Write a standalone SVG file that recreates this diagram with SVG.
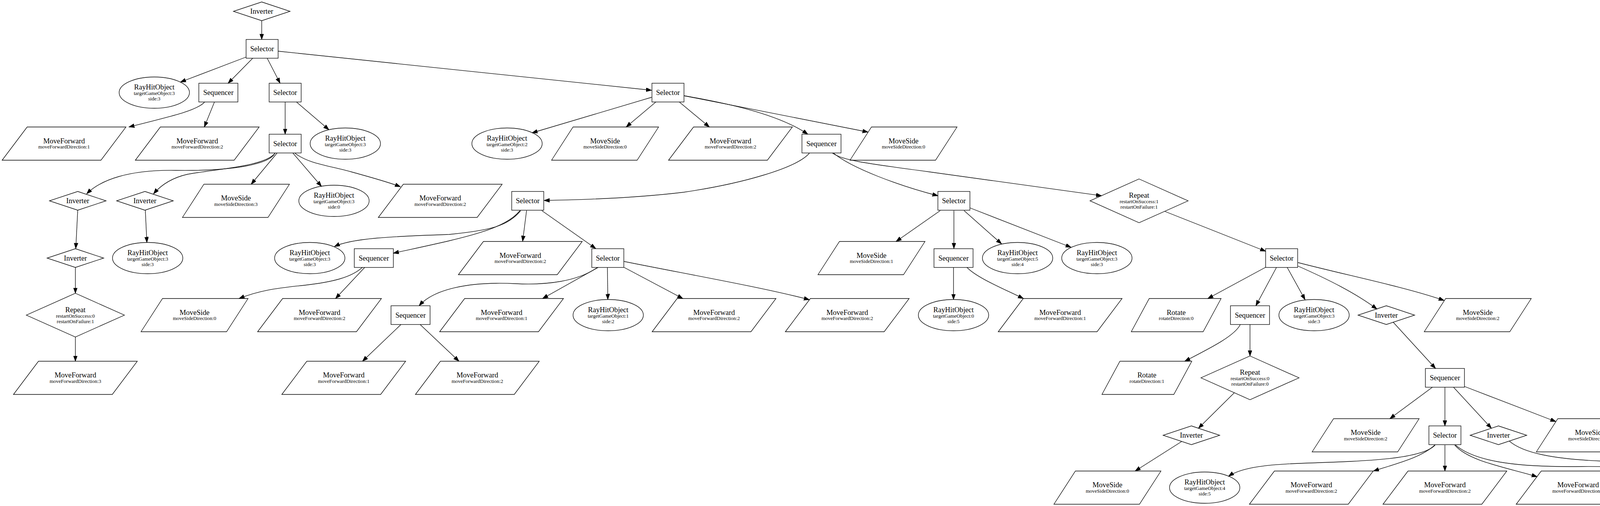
<svg xmlns="http://www.w3.org/2000/svg" xmlns:xlink="http://www.w3.org/1999/xlink" width="4756" height="1295" viewBox="0 0 4756 1295">
<style>
.sh{fill:none;stroke:#000;stroke-width:1.33}
.m{font-family:"Liberation Serif","Times New Roman",serif;font-size:18.67px;text-anchor:middle;fill:#000}
.s{font-family:"Liberation Serif","Times New Roman",serif;font-size:13px;text-anchor:middle;fill:#000}
.e{fill:none;stroke:#000;stroke-width:1.33;marker-end:url(#ah)}
</style>
<defs>
<marker id="ah" markerUnits="userSpaceOnUse" markerWidth="15" markerHeight="11" refX="14" refY="5" orient="auto"><path d="M0,0 L14,5 L0,10 z" fill="#000" stroke="#000" stroke-width="1"/></marker>
<rect id="sel" class="sh" x="-41" y="-24" width="82" height="48"/>
<rect id="seq" class="sh" x="-50" y="-24" width="100" height="48"/>
<polygon id="inv" class="sh" points="0,-24 72.5,0 0,24 -72.5,0"/>
<polygon id="rep" class="sh" points="0,-56 125.5,0 0,56 -125.5,0"/>
<ellipse id="ell" class="sh" cx="0" cy="0" rx="90" ry="40"/>
<polygon id="mf" class="sh" points="-158.5,42.5 -94.5,-42.5 158.5,-42.5 94.5,42.5"/>
<polygon id="ms" class="sh" points="-137,42.5 -82,-42.5 137,-42.5 82,42.5"/>
<polygon id="rot" class="sh" points="-115,42.5 -69,-42.5 115,-42.5 69,42.5"/>
</defs>
<rect width="4756" height="1295" fill="#fff"/>
<g id="edges">
<path class="e" d="M670,53 L670,101"/>
<path class="e" d="M630,146 L462,210"/>
<path class="e" d="M647,149 L584,213"/>
<path class="e" d="M684,149 L717,213"/>
<path class="e" d="M712,131 L1668,231"/>
<path class="e" d="M524,261 C505,282 450,295 330,325"/>
<path class="e" d="M549,261 L523,325"/>
<path class="e" d="M730,261 L730,343.5"/>
<path class="e" d="M759,261 L842,332"/>
<path class="e" d="M704,392 C690,420 600,438 450,436 C330,434 258,460 222,496"/>
<path class="e" d="M704,392 C680,425 560,432 480,446 C440,455 412,474 393,496"/>
<path class="e" d="M709,392 L643,471.5"/>
<path class="e" d="M750,392 L823,477"/>
<path class="e" d="M755,392 C790,420 850,425 900,440 C950,454 995,466 1025,478"/>
<path class="e" d="M199,538 L194,636"/>
<path class="e" d="M372,538 L376,620.5"/>
<path class="e" d="M193,684 L193,750.5"/>
<path class="e" d="M193,863 L193,924.5"/>
<path class="e" d="M1668,249 L1362,340"/>
<path class="e" d="M1679,261 L1603,325"/>
<path class="e" d="M1739,261 L1816,325"/>
<path class="e" d="M1751,245 C1850,262 1990,290 2068,343.5"/>
<path class="e" d="M1751,245 L2222,338"/>
<path class="e" d="M2072,392 C2040,430 1900,470 1750,492 C1600,510 1450,512 1393,513"/>
<path class="e" d="M2134,392 C2180,430 2300,475 2401,501"/>
<path class="e" d="M2131,392 C2160,410 2200,416 2380,440 C2560,464 2700,485 2820,501"/>
<path class="e" d="M1333,539 C1300,580 1250,590 1150,600 C1000,605 900,610 856,631"/>
<path class="e" d="M1331,539 C1290,590 1180,610 1007,648"/>
<path class="e" d="M1348,539 L1338,617.5"/>
<path class="e" d="M1387,539 L1525,636"/>
<path class="e" d="M928,684 C900,710 850,722 780,730 C700,738 660,745 612,764"/>
<path class="e" d="M934,684 L859,764"/>
<path class="e" d="M1530,684 C1480,720 1400,730 1320,726 C1200,720 1110,740 1073,782.5"/>
<path class="e" d="M1532,684 L1389,764"/>
<path class="e" d="M1555,684 L1556,766.5"/>
<path class="e" d="M1597,684 L1748,764"/>
<path class="e" d="M1597,669 C1750,700 1950,735 2072,767"/>
<path class="e" d="M1026,831 L928,924.5"/>
<path class="e" d="M1076,831 L1175,924.5"/>
<path class="e" d="M2407,539 L2294,618"/>
<path class="e" d="M2442,539 L2442,636"/>
<path class="e" d="M2468,539 L2564,624"/>
<path class="e" d="M2483,532 L2742,633"/>
<path class="e" d="M2441,684 L2441,766.5"/>
<path class="e" d="M2475,684 C2500,710 2560,735 2620,764"/>
<path class="e" d="M2982,541 L3240,643"/>
<path class="e" d="M3240,684 L3092,764"/>
<path class="e" d="M3268,684 L3215,782.5"/>
<path class="e" d="M3295,684 L3341,767"/>
<path class="e" d="M3323,681 C3400,715 3470,750 3525,791"/>
<path class="e" d="M3323,672 C3450,705 3600,735 3697,769"/>
<path class="e" d="M3175,831 C3160,860 3100,890 3033,924.5"/>
<path class="e" d="M3200,831 L3200,911"/>
<path class="e" d="M3160,1005 L3068,1096"/>
<path class="e" d="M3025,1130 L2906,1205.5"/>
<path class="e" d="M3566,824 L3675,943"/>
<path class="e" d="M3667,991 L3558,1071.5"/>
<path class="e" d="M3699,991 L3699,1090"/>
<path class="e" d="M3721,991 L3818,1096"/>
<path class="e" d="M3749,989 L3983,1079"/>
<path class="e" d="M3674,1139 C3640,1175 3500,1180 3350,1185 C3250,1188 3180,1195 3145,1219"/>
<path class="e" d="M3673,1139 C3640,1170 3580,1185 3516,1205.5"/>
<path class="e" d="M3699,1139 L3699,1205.5"/>
<path class="e" d="M3724,1139 C3760,1180 3850,1195 3935,1220"/>
<path class="e" d="M3726,1139 C3780,1185 3900,1196 4050,1194 C4150,1193 4210,1200 4270,1218"/>
<path class="e" d="M3864,1129 C3900,1160 3980,1175 4100,1180 C4300,1185 4460,1192 4560,1218"/>
</g>
<g id="n0" transform="translate(670,29)"><use href="#inv"/><text class="m" y="6">Inverter</text></g>
<g id="n1" transform="translate(671,125)"><use href="#sel"/><text class="m" y="6">Selector</text></g>
<g id="n2" transform="translate(395,237)"><use href="#ell"/><text class="m" y="-8">RayHitObject</text><text class="s" y="6">targetGameObject:3</text><text class="s" y="20">side:3</text></g>
<g id="n3" transform="translate(559,237)"><use href="#seq"/><text class="m" y="6">Sequencer</text></g>
<g id="n4" transform="translate(730,237)"><use href="#sel"/><text class="m" y="6">Selector</text></g>
<g id="n5" transform="translate(1710,237)"><use href="#sel"/><text class="m" y="6">Selector</text></g>
<g id="n6" transform="translate(164,367.5)"><use href="#mf"/><text class="m" y="-1">MoveForward</text><text class="s" y="12.5">moveForwardDirection:1</text></g>
<g id="n7" transform="translate(505,367.5)"><use href="#mf"/><text class="m" y="-1">MoveForward</text><text class="s" y="12.5">moveForwardDirection:2</text></g>
<g id="n8" transform="translate(730,367.5)"><use href="#sel"/><text class="m" y="6">Selector</text></g>
<g id="n9" transform="translate(884,367.5)"><use href="#ell"/><text class="m" y="-8">RayHitObject</text><text class="s" y="6">targetGameObject:3</text><text class="s" y="20">side:3</text></g>
<g id="n10" transform="translate(1298,367.5)"><use href="#ell"/><text class="m" y="-8">RayHitObject</text><text class="s" y="6">targetGameObject:2</text><text class="s" y="20">side:3</text></g>
<g id="n11" transform="translate(1549,367.5)"><use href="#ms"/><text class="m" y="-1">MoveSide</text><text class="s" y="12.5">moveSideDirection:0</text></g>
<g id="n12" transform="translate(1870,367.5)"><use href="#mf"/><text class="m" y="-1">MoveForward</text><text class="s" y="12.5">moveForwardDirection:2</text></g>
<g id="n13" transform="translate(2103,367.5)"><use href="#seq"/><text class="m" y="6">Sequencer</text></g>
<g id="n14" transform="translate(2313,367.5)"><use href="#ms"/><text class="m" y="-1">MoveSide</text><text class="s" y="12.5">moveSideDirection:0</text></g>
<g id="n15" transform="translate(199,514)"><use href="#inv"/><text class="m" y="6">Inverter</text></g>
<g id="n16" transform="translate(371,514)"><use href="#inv"/><text class="m" y="6">Inverter</text></g>
<g id="n17" transform="translate(604,514)"><use href="#ms"/><text class="m" y="-1">MoveSide</text><text class="s" y="12.5">moveSideDirection:3</text></g>
<g id="n18" transform="translate(855,514)"><use href="#ell"/><text class="m" y="-8">RayHitObject</text><text class="s" y="6">targetGameObject:3</text><text class="s" y="20">side:0</text></g>
<g id="n19" transform="translate(1127,514)"><use href="#mf"/><text class="m" y="-1">MoveForward</text><text class="s" y="12.5">moveForwardDirection:2</text></g>
<g id="n20" transform="translate(1351,514)"><use href="#sel"/><text class="m" y="6">Selector</text></g>
<g id="n21" transform="translate(2442,514)"><use href="#sel"/><text class="m" y="6">Selector</text></g>
<g id="n22" transform="translate(2916,514)"><use href="#rep"/><text class="m" y="-8">Repeat</text><text class="s" y="6">restartOnSuccess:1</text><text class="s" y="20">restartOnFailure:1</text></g>
<g id="n23" transform="translate(193,660.5)"><use href="#inv"/><text class="m" y="6">Inverter</text></g>
<g id="n24" transform="translate(378,660.5)"><use href="#ell"/><text class="m" y="-8">RayHitObject</text><text class="s" y="6">targetGameObject:3</text><text class="s" y="20">side:3</text></g>
<g id="n25" transform="translate(793,660.5)"><use href="#ell"/><text class="m" y="-8">RayHitObject</text><text class="s" y="6">targetGameObject:3</text><text class="s" y="20">side:3</text></g>
<g id="n26" transform="translate(957,660.5)"><use href="#seq"/><text class="m" y="6">Sequencer</text></g>
<g id="n27" transform="translate(1332,660.5)"><use href="#mf"/><text class="m" y="-1">MoveForward</text><text class="s" y="12.5">moveForwardDirection:2</text></g>
<g id="n28" transform="translate(1556,660.5)"><use href="#sel"/><text class="m" y="6">Selector</text></g>
<g id="n29" transform="translate(2231,660.5)"><use href="#ms"/><text class="m" y="-1">MoveSide</text><text class="s" y="12.5">moveSideDirection:1</text></g>
<g id="n30" transform="translate(2441,660.5)"><use href="#seq"/><text class="m" y="6">Sequencer</text></g>
<g id="n31" transform="translate(2605,660.5)"><use href="#ell"/><text class="m" y="-8">RayHitObject</text><text class="s" y="6">targetGameObject:5</text><text class="s" y="20">side:4</text></g>
<g id="n32" transform="translate(2808,660.5)"><use href="#ell"/><text class="m" y="-8">RayHitObject</text><text class="s" y="6">targetGameObject:3</text><text class="s" y="20">side:3</text></g>
<g id="n33" transform="translate(3281,660.5)"><use href="#sel"/><text class="m" y="6">Selector</text></g>
<g id="n34" transform="translate(193,806.5)"><use href="#rep"/><text class="m" y="-8">Repeat</text><text class="s" y="6">restartOnSuccess:0</text><text class="s" y="20">restartOnFailure:1</text></g>
<g id="n35" transform="translate(498,806.5)"><use href="#ms"/><text class="m" y="-1">MoveSide</text><text class="s" y="12.5">moveSideDirection:0</text></g>
<g id="n36" transform="translate(818,806.5)"><use href="#mf"/><text class="m" y="-1">MoveForward</text><text class="s" y="12.5">moveForwardDirection:2</text></g>
<g id="n37" transform="translate(1051,806.5)"><use href="#seq"/><text class="m" y="6">Sequencer</text></g>
<g id="n38" transform="translate(1284,806.5)"><use href="#mf"/><text class="m" y="-1">MoveForward</text><text class="s" y="12.5">moveForwardDirection:1</text></g>
<g id="n39" transform="translate(1557,806.5)"><use href="#ell"/><text class="m" y="-8">RayHitObject</text><text class="s" y="6">targetGameObject:1</text><text class="s" y="20">side:2</text></g>
<g id="n40" transform="translate(1828,806.5)"><use href="#mf"/><text class="m" y="-1">MoveForward</text><text class="s" y="12.5">moveForwardDirection:2</text></g>
<g id="n41" transform="translate(2169,806.5)"><use href="#mf"/><text class="m" y="-1">MoveForward</text><text class="s" y="12.5">moveForwardDirection:2</text></g>
<g id="n42" transform="translate(2441,806.5)"><use href="#ell"/><text class="m" y="-8">RayHitObject</text><text class="s" y="6">targetGameObject:0</text><text class="s" y="20">side:5</text></g>
<g id="n43" transform="translate(2714,806.5)"><use href="#mf"/><text class="m" y="-1">MoveForward</text><text class="s" y="12.5">moveForwardDirection:1</text></g>
<g id="n44" transform="translate(3011,806.5)"><use href="#rot"/><text class="m" y="-1">Rotate</text><text class="s" y="12.5">rotateDirection:0</text></g>
<g id="n45" transform="translate(3200,806.5)"><use href="#seq"/><text class="m" y="6">Sequencer</text></g>
<g id="n46" transform="translate(3364,806.5)"><use href="#ell"/><text class="m" y="-8">RayHitObject</text><text class="s" y="6">targetGameObject:3</text><text class="s" y="20">side:3</text></g>
<g id="n47" transform="translate(3549,806.5)"><use href="#inv"/><text class="m" y="6">Inverter</text></g>
<g id="n48" transform="translate(3783,806.5)"><use href="#ms"/><text class="m" y="-1">MoveSide</text><text class="s" y="12.5">moveSideDirection:2</text></g>
<g id="n49" transform="translate(193,967)"><use href="#mf"/><text class="m" y="-1">MoveForward</text><text class="s" y="12.5">moveForwardDirection:3</text></g>
<g id="n50" transform="translate(880,967)"><use href="#mf"/><text class="m" y="-1">MoveForward</text><text class="s" y="12.5">moveForwardDirection:1</text></g>
<g id="n51" transform="translate(1222,967)"><use href="#mf"/><text class="m" y="-1">MoveForward</text><text class="s" y="12.5">moveForwardDirection:2</text></g>
<g id="n52" transform="translate(2936,967)"><use href="#rot"/><text class="m" y="-1">Rotate</text><text class="s" y="12.5">rotateDirection:1</text></g>
<g id="n53" transform="translate(3200,967)"><use href="#rep"/><text class="m" y="-8">Repeat</text><text class="s" y="6">restartOnSuccess:0</text><text class="s" y="20">restartOnFailure:0</text></g>
<g id="n54" transform="translate(3699,967)"><use href="#seq"/><text class="m" y="6">Sequencer</text></g>
<g id="n55" transform="translate(3496,1114)"><use href="#ms"/><text class="m" y="-1">MoveSide</text><text class="s" y="12.5">moveSideDirection:2</text></g>
<g id="n56" transform="translate(3699,1114)"><use href="#sel"/><text class="m" y="6">Selector</text></g>
<g id="n57" transform="translate(3836,1114)"><use href="#inv"/><text class="m" y="6">Inverter</text></g>
<g id="n58" transform="translate(4070,1114)"><use href="#ms"/><text class="m" y="-1">MoveSide</text><text class="s" y="12.5">moveSideDirection:1</text></g>
<g id="n59" transform="translate(3050,1114)"><use href="#inv"/><text class="m" y="6">Inverter</text></g>
<g id="n60" transform="translate(2835,1248)"><use href="#ms"/><text class="m" y="-1">MoveSide</text><text class="s" y="12.5">moveSideDirection:0</text></g>
<g id="n61" transform="translate(3084,1248)"><use href="#ell"/><text class="m" y="-8">RayHitObject</text><text class="s" y="6">targetGameObject:4</text><text class="s" y="20">side:5</text></g>
<g id="n62" transform="translate(3357,1248)"><use href="#mf"/><text class="m" y="-1">MoveForward</text><text class="s" y="12.5">moveForwardDirection:2</text></g>
<g id="n63" transform="translate(3699,1248)"><use href="#mf"/><text class="m" y="-1">MoveForward</text><text class="s" y="12.5">moveForwardDirection:2</text></g>
<g id="n64" transform="translate(4040,1248)"><use href="#mf"/><text class="m" y="-1">MoveForward</text><text class="s" y="12.5">moveForwardDirection:1</text></g>
<g id="n65" transform="translate(4360,1248)"><use href="#ms"/><text class="m" y="-1">MoveSide</text><text class="s" y="12.5">moveSideDirection:2</text></g>
<g id="n66" transform="translate(4636,1248)"><use href="#rot"/><text class="m" y="-1">Rotate</text><text class="s" y="12.5">rotateDirection:2</text></g>
</svg>
